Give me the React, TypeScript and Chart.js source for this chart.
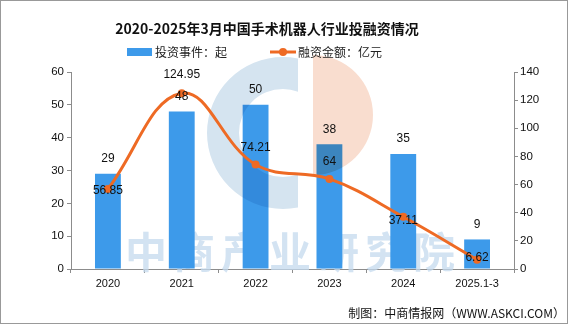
import { useEffect, useRef } from "react";
import { Chart, registerables } from "chart.js";

Chart.register(...registerables);

const title = "2020-2025年3月中国手术机器人行业投融资情况";
const categories = ["2020", "2021", "2022", "2023", "2024", "2025.1-3"];
const investEvents = [29, 48, 50, 38, 35, 9];
const financingAmount = [56.85, 124.95, 74.21, 64, 37.11, 6.62];
const barLegend = "投资事件：起";
const lineLegend = "融资金额：亿元";
const sourceNote = "制图：中商情报网（WWW.ASKCI.COM）";
const watermark = "中商产业研究院";

// styling (label vertical offsets relative to each line point)
const lineLabelDy = [2, -18, -17, -17, 4, -2];
const BAR_COLOR = "#3d9aea";
const LINE_COLOR = "#ee6a24";
const AXIS_COLOR = "#8c8c8c";
const LABEL_FONT = "12px 'Liberation Sans', Arial, sans-serif";
const CJK = "'Noto Sans CJK SC', sans-serif";

const decorPlugin = {
  id: "decor",
  beforeDatasetsDraw(chart: any) {
    const ctx = chart.ctx;
    ctx.save();
    ctx.fillStyle = "rgba(196,218,238,0.75)";
    ctx.font = `bold 42px ${CJK}`;
    ctx.textAlign = "center";
    ctx.textBaseline = "middle";
    const chars = Array.from(watermark);
    const step = 48;
    const cx = 290;
    chars.forEach((c, i) => {
      ctx.fillText(c, cx + (i - (chars.length - 1) / 2) * step, 252);
    });
    ctx.restore();
  },
  afterDatasetDraw(chart: any, args: any) {
    if (args.meta.type !== "bar") return;
    const ctx = chart.ctx;
    ctx.save();
    ctx.globalCompositeOperation = "multiply";
    // blue C
    ctx.save();
    ctx.beginPath();
    ctx.rect(0, 0, 298, 400);
    ctx.clip();
    ctx.beginPath();
    ctx.arc(283, 133, 76, 0, Math.PI * 2);
    ctx.arc(283, 133, 44, 0, Math.PI * 2, true);
    ctx.fillStyle = "#d5e4f0";
    ctx.fill("evenodd");
    ctx.restore();
    // pink half
    ctx.save();
    ctx.beginPath();
    ctx.rect(313, 0, 200, 400);
    ctx.clip();
    ctx.beginPath();
    ctx.arc(313, 115, 60, 0, Math.PI * 2);
    ctx.fillStyle = "#f9ddcf";
    ctx.fill();
    ctx.restore();
    ctx.restore();
  },
  afterDraw(chart: any) {
    const ctx = chart.ctx;
    ctx.save();
    // border
    ctx.strokeStyle = "#999";
    ctx.lineWidth = 1;
    ctx.strokeRect(0.5, 0.5, 567, 323);
    // title
    ctx.fillStyle = "#111";
    ctx.font = `bold 14px ${CJK}`;
    ctx.textAlign = "center";
    ctx.textBaseline = "middle";
    ctx.fillText(title, 267, 29);
    // legend
    ctx.font = `12px ${CJK}`;
    ctx.textAlign = "left";
    ctx.fillStyle = BAR_COLOR;
    ctx.fillRect(127, 48, 25, 8);
    ctx.fillStyle = "#222";
    ctx.fillText(barLegend, 155, 52);
    ctx.strokeStyle = LINE_COLOR;
    ctx.lineWidth = 3;
    ctx.beginPath();
    ctx.moveTo(270, 52);
    ctx.lineTo(296, 52);
    ctx.stroke();
    ctx.fillStyle = LINE_COLOR;
    ctx.beginPath();
    ctx.arc(283, 52, 4, 0, Math.PI * 2);
    ctx.fill();
    ctx.fillStyle = "#222";
    ctx.fillText(lineLegend, 298, 52);
    // source
    ctx.textAlign = "right";
    ctx.font = `12px ${CJK}`;
    ctx.fillStyle = "#111";
    ctx.fillText(sourceNote, 565, 313);
    ctx.restore();
  },
};

const valueLabelPlugin = {
  id: "valueLabels",
  afterDatasetsDraw(chart: any) {
    const ctx = chart.ctx;
    ctx.save();
    ctx.font = LABEL_FONT;
    ctx.fillStyle = "#111";
    ctx.textAlign = "center";
    ctx.textBaseline = "middle";
    chart.data.datasets.forEach((ds: any, di: number) => {
      const meta = chart.getDatasetMeta(di);
      meta.data.forEach((el: any, i: number) => {
        const v = ds.data[i];
        if (meta.type === "bar") {
          ctx.fillText(String(v), el.x, el.y - 15);
        } else {
          ctx.fillText(String(v), el.x, el.y + lineLabelDy[i]);
        }
      });
    });
    ctx.restore();
  },
};

export default function App() {
  const ref = useRef<HTMLCanvasElement | null>(null);
  useEffect(() => {
    document.body.style.margin = "0";
    const canvas = ref.current!;
    const tickFont = { family: "'Liberation Sans', Arial, sans-serif", size: 11 };
    const chart = new Chart(canvas, {
      type: "bar",
      data: {
        labels: categories,
        datasets: [
          {
            type: "line",
            label: lineLegend,
            data: financingAmount,
            yAxisID: "y1",
            borderColor: LINE_COLOR,
            backgroundColor: LINE_COLOR,
            borderWidth: 3,
            pointRadius: 4,
            pointBackgroundColor: LINE_COLOR,
            pointBorderWidth: 0,
            tension: 0.4,
            order: 0,
          } as any,
          {
            type: "bar",
            label: barLegend,
            data: investEvents,
            yAxisID: "y",
            backgroundColor: BAR_COLOR,
            barPercentage: 0.35,
            categoryPercentage: 1,
            order: 1,
          },
        ],
      },
      options: {
        responsive: false,
        animation: false,
        layout: { padding: { top: 72, left: 0, right: 0, bottom: 0 } },
        plugins: {
          legend: { display: false },
          title: { display: false },
          tooltip: { enabled: false },
        },
        scales: {
          x: {
            offset: true,
            grid: {
              offset: true,
              drawOnChartArea: false,
              drawTicks: true,
              tickLength: 4,
              color: AXIS_COLOR,
            },
            border: { display: true, color: AXIS_COLOR },
            ticks: { color: "#111", font: tickFont, padding: 4, maxRotation: 0 },
            afterFit: (s: any) => {
              s.height = 58;
            },
          },
          y: {
            position: "left",
            min: 0,
            max: 60,
            ticks: { stepSize: 10, color: "#111", font: { ...tickFont, size: 11.5 }, padding: 3 },
            grid: { drawOnChartArea: false, drawTicks: true, tickLength: 4, color: AXIS_COLOR },
            border: { display: true, color: AXIS_COLOR },
            afterFit: (s: any) => {
              s.width = 71;
            },
          },
          y1: {
            position: "right",
            min: 0,
            max: 140,
            ticks: { stepSize: 20, color: "#111", font: { ...tickFont, size: 11.5 }, padding: 2 },
            grid: { drawOnChartArea: false, drawTicks: true, tickLength: 4, color: AXIS_COLOR },
            border: { display: true, color: AXIS_COLOR },
            afterFit: (s: any) => {
              s.width = 67;
            },
          },
        },
      },
      plugins: [decorPlugin, valueLabelPlugin],
    });
    return () => chart.destroy();
  }, []);
  return <canvas ref={ref} width={581} height={327} style={{ display: "block" }} />;
}
